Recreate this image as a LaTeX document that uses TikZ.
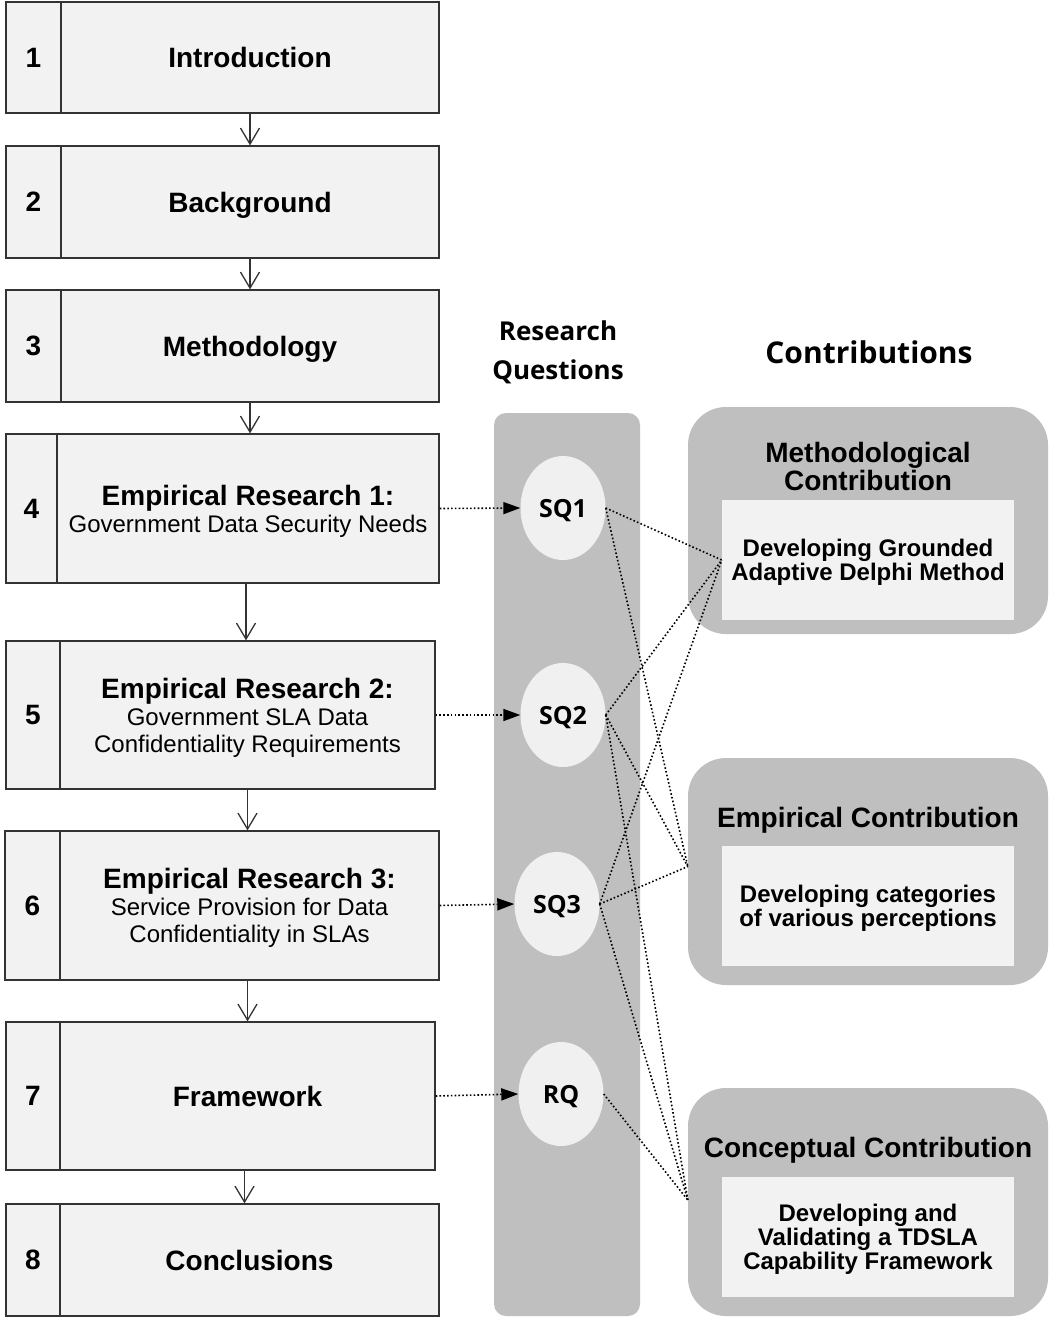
\documentclass[tikz,border=0pt]{standalone}
\usepackage{fontspec}
\setmainfont{Liberation Sans}
\newfontfamily\osans{Open Sans}
\usetikzlibrary{shapes.geometric,arrows.meta,calc}
\definecolor{boxfill}{HTML}{F2F2F2}
\definecolor{boxline}{HTML}{333333}
\definecolor{colgray}{HTML}{BFBFBF}
\definecolor{ellfill}{HTML}{F0F0F0}
\begin{document}
\begin{tikzpicture}[x=1pt,y=-1pt,
  numbox/.style={draw=boxline, fill=boxfill, line width=1.3pt, inner sep=0pt, text depth=0pt,
    font=\fontsize{28}{28}\selectfont\bfseries},
  mainbox/.style={draw=boxline, fill=boxfill, line width=1.3pt, inner sep=0pt, align=center,
    text depth=0pt, font=\fontsize{24}{27}\selectfont},
  qell/.style={ellipse, fill=ellfill, inner sep=0pt, minimum width=85pt, minimum height=104pt,
    text depth=0pt, font=\osans\bfseries\fontsize{25}{26}\selectfont},
  colbg/.style={fill=colgray, rounded corners=12pt, inner sep=0pt},
  contouter/.style={fill=colgray, rounded corners=38pt, inner sep=0pt, minimum width=360pt},
  continner/.style={fill=boxfill, inner sep=0pt, minimum width=292pt, minimum height=120pt,
    text depth=0pt, align=center, font=\fontsize{24}{24}\selectfont\bfseries},
  conttitle/.style={align=center, inner sep=0pt, text depth=0pt, font=\fontsize{28}{28}\selectfont\bfseries},
  varrow/.style={draw=boxline, line width=1.3pt, -{Straight Barb[length=16pt,width=19pt,line width=1.3pt]}},
  dotarrow/.style={draw=black, line width=1.6pt, dash pattern=on 1.6pt off 2.2pt,
    -{Triangle[length=17pt,width=12pt]}},
  dotline/.style={draw=black, line width=1.6pt, dash pattern=on 1.6pt off 2.2pt},
  head/.style={align=center, inner sep=0pt, font=\osans\bfseries}
]
\useasboundingbox (0,0) rectangle (1050,1319);
\fill[white] (0,0) rectangle (1050,1319);

% headers
\node[head, font=\osans\bfseries\fontsize{26}{39}\selectfont] (hrq) at (558,352) {Research\\Questions};
\node[head, font=\osans\bfseries\fontsize{30}{32}\selectfont] (hco) at (869,352) {Contributions};

% research question column
\node[colbg, minimum width=146pt, minimum height=903pt] (col) at (567,864.5) {};
\node[qell] (sq1) at (563,508) {SQ1};
\node[qell] (sq2) at (563,715) {SQ2};
\node[qell] (sq3) at (557,904) {SQ3};
\node[qell] (rq) at (561,1094) {RQ};

% contribution boxes
\node[contouter, minimum height=227pt] (mo) at (868,520.5) {};
\node[continner] (mi) at (868,560) {Developing Grounded\\Adaptive Delphi Method};
\node[conttitle] (mt) at (868,466) {Methodological\\Contribution};

\node[contouter, minimum height=227pt] (eo) at (868,871.5) {};
\node[continner] (ei) at (868,906) {Developing categories\\of various perceptions};
\node[conttitle] (et) at (868,817) {Empirical Contribution};

\node[contouter, minimum height=228pt] (co) at (868,1202) {};
\node[continner] (ci) at (868,1237) {Developing and\\Validating a TDSLA\\Capability Framework};
\node[conttitle] (ct) at (868,1147) {Conceptual Contribution};

% chapter boxes
\node[numbox, minimum width=55pt, minimum height=111pt] (n1) at (33.5,57.5) {1};
\node[mainbox, minimum width=378pt, minimum height=111pt] (b1) at (250,57.5) {\bfseries\fontsize{28}{28}\selectfont Introduction};

\node[numbox, minimum width=55pt, minimum height=112pt] (n2) at (33.5,202) {2};
\node[mainbox, minimum width=378pt, minimum height=112pt] (b2) at (250,202) {\bfseries\fontsize{28}{28}\selectfont Background};

\node[numbox, minimum width=55pt, minimum height=112pt] (n3) at (33.5,346) {3};
\node[mainbox, minimum width=378pt, minimum height=112pt] (b3) at (250,346) {\bfseries\fontsize{28}{28}\selectfont Methodology};

\node[numbox, minimum width=51pt, minimum height=149pt] (n4) at (31.5,508.5) {4};
\node[mainbox, minimum width=382pt, minimum height=149pt] (b4) at (248,508.5)
  {{\bfseries\fontsize{28}{27}\selectfont Empirical Research 1:}\\Government Data Security Needs};

\node[numbox, minimum width=54pt, minimum height=148pt] (n5) at (33,715) {5};
\node[mainbox, minimum width=375pt, minimum height=148pt] (b5) at (247.5,715)
  {{\bfseries\fontsize{28}{27}\selectfont Empirical Research 2:}\\Government SLA Data\\Confidentiality Requirements};

\node[numbox, minimum width=55pt, minimum height=149pt] (n6) at (32.5,905.5) {6};
\node[mainbox, minimum width=379pt, minimum height=149pt] (b6) at (249.5,905.5)
  {{\bfseries\fontsize{28}{27}\selectfont Empirical Research 3:}\\Service Provision for Data\\Confidentiality in SLAs};

\node[numbox, minimum width=54pt, minimum height=148pt] (n7) at (33,1096) {7};
\node[mainbox, minimum width=375pt, minimum height=148pt] (b7) at (247.5,1096) {\bfseries\fontsize{28}{28}\selectfont Framework};

\node[numbox, minimum width=54pt, minimum height=112pt] (n8) at (33,1260) {8};
\node[mainbox, minimum width=379pt, minimum height=112pt] (b8) at (249.5,1260) {\bfseries\fontsize{28}{28}\selectfont Conclusions};

% vertical flow arrows
\draw[varrow] (b1.south) -- (b1.south |- b2.north);
\draw[varrow] (b2.south) -- (b2.south |- b3.north);
\draw[varrow] (b3.south) -- (b3.south |- b4.north);
\draw[varrow] ([xshift=-2pt]b4.south) -- ([xshift=-2pt]b4.south |- b5.north);
\draw[varrow] (b5.south) -- (b5.south |- b6.north);
\draw[varrow] ([xshift=-2pt]b6.south) -- ([xshift=-2pt]b6.south |- b7.north);
\draw[varrow] ([xshift=-3pt]b7.south) -- ([xshift=-3pt]b7.south |- b8.north);

% dotted arrows to questions
\draw[dotarrow] (b4.east) -- (sq1.west);
\draw[dotarrow] (b5.east) -- (sq2.west);
\draw[dotarrow] (b6.east) -- (sq3.west);
\draw[dotarrow] (b7.east) -- (rq.west);

% question to contribution links
\draw[dotline] (sq1.east) -- (mi.west);
\draw[dotline] (sq1.east) -- ([yshift=5pt]eo.west);
\draw[dotline] (sq2.east) -- (mi.west);
\draw[dotline] (sq2.east) -- ([yshift=5pt]eo.west);
\draw[dotline] (sq2.east) -- ([yshift=2pt]co.west);
\draw[dotline] (sq3.east) -- (mi.west);
\draw[dotline] (sq3.east) -- ([yshift=5pt]eo.west);
\draw[dotline] (sq3.east) -- ([yshift=2pt]co.west);
\draw[dotline] (rq.east) -- ([yshift=2pt]co.west);
\end{tikzpicture}
\end{document}
